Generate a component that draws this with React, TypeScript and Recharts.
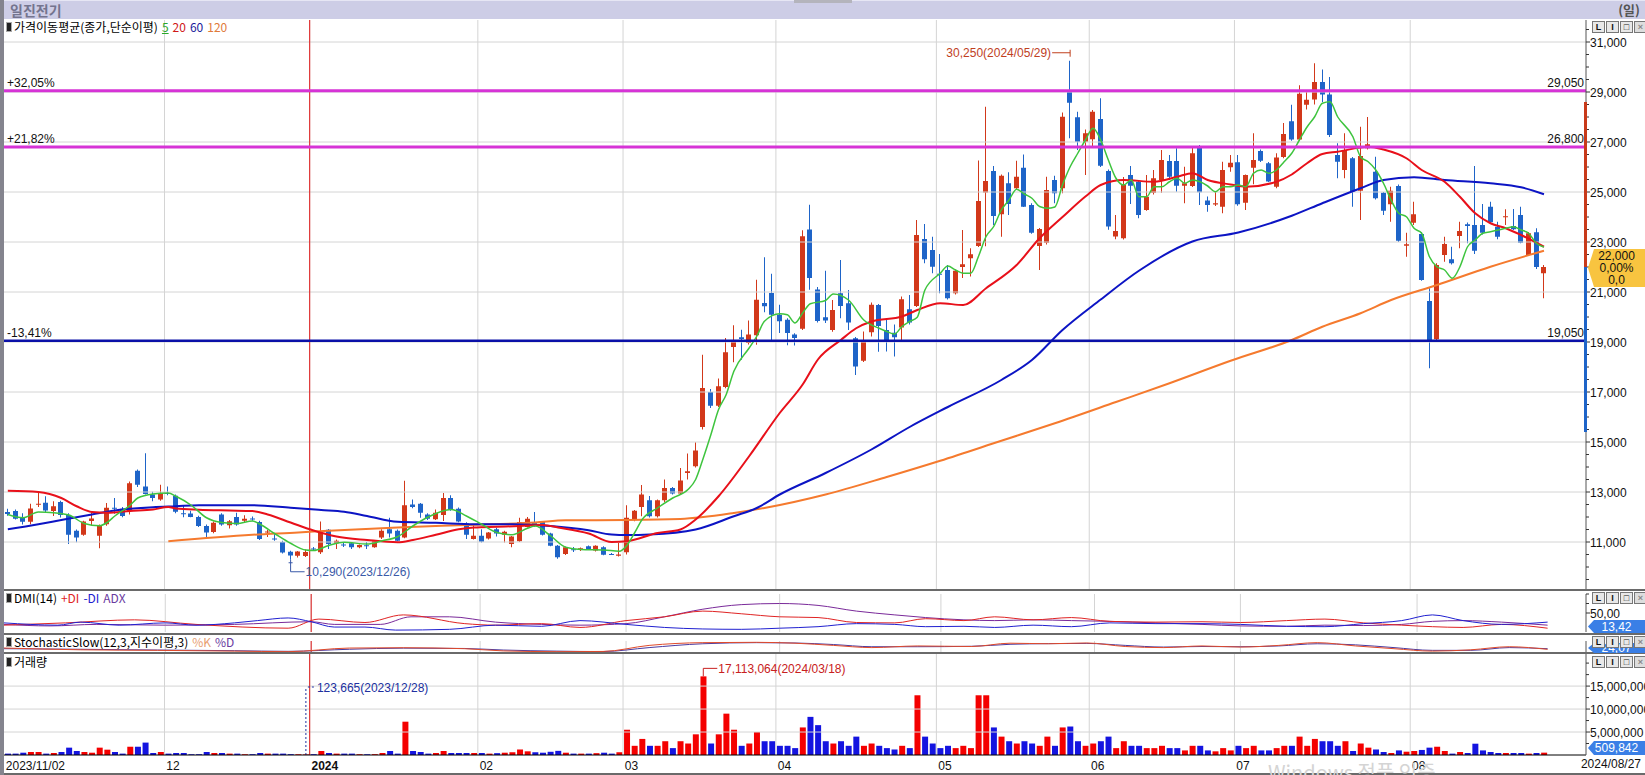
import React from 'react';
import {
  ComposedChart,
  Bar,
  Line,
  XAxis,
  YAxis,
  ReferenceLine,
  ReferenceDot,
  Cell,
} from 'recharts';

// trading days per month
const monthDays: [string, number[]][] = [
  ['2023/11', [2, 3, 6, 7, 8, 9, 10, 13, 14, 15, 16, 17, 20, 21, 22, 23, 24, 27, 28, 29, 30]],
  ['2023/12', [1, 4, 5, 6, 7, 8, 11, 12, 13, 14, 15, 18, 19, 20, 21, 22, 26, 27, 28]],
  ['2024/01', [2, 3, 4, 5, 8, 9, 10, 11, 12, 15, 16, 17, 18, 19, 22, 23, 24, 25, 26, 29, 30, 31]],
  ['2024/02', [1, 2, 5, 6, 7, 8, 13, 14, 15, 16, 19, 20, 21, 22, 23, 26, 27, 28, 29]],
  ['2024/03', [4, 5, 6, 7, 8, 11, 12, 13, 14, 15, 18, 19, 20, 21, 22, 25, 26, 27, 28, 29]],
  ['2024/04', [1, 2, 3, 4, 5, 8, 9, 11, 12, 15, 16, 17, 18, 19, 22, 23, 24, 25, 26, 29, 30]],
  ['2024/05', [2, 3, 7, 8, 9, 10, 13, 14, 16, 17, 20, 21, 22, 23, 24, 27, 28, 29, 30, 31]],
  ['2024/06', [3, 4, 5, 7, 10, 11, 12, 13, 14, 17, 18, 19, 20, 21, 24, 25, 26, 27, 28]],
  ['2024/07', [1, 2, 3, 4, 5, 8, 9, 10, 11, 12, 15, 16, 17, 18, 19, 22, 23, 24, 25, 26, 29, 30, 31]],
  ['2024/08', [1, 2, 5, 6, 7, 8, 9, 12, 13, 14, 16, 19, 20, 21, 22, 23, 26, 27]],
];

// [open, high, low, close]
const nov23 = [
  [12200, 12330, 12050, 12120], [12240, 12300, 11900, 11930], [11970, 12150, 11700, 11810],
  [11810, 12530, 11710, 12340], [12500, 12960, 12400, 12530], [12570, 12830, 12170, 12260],
  [12240, 12630, 12040, 12430], [12600, 12650, 11980, 12080], [12080, 12150, 10920, 11290],
  [11450, 11500, 10990, 11180], [11290, 11850, 11250, 11820], [11840, 12170, 11660, 11940],
  [11250, 11700, 10750, 11650], [11710, 12560, 11650, 12370], [12370, 12760, 12130, 12340],
  [12330, 12400, 11990, 12040], [12240, 13420, 12100, 13350], [13850, 13900, 13200, 13290],
  [13220, 14550, 12900, 12920], [12900, 13010, 12630, 12760], [12700, 13290, 12650, 12960],
];
const dec23 = [
  [12960, 13220, 12870, 12940], [12850, 12900, 12150, 12210], [12150, 12480, 11990, 12130],
  [12140, 12250, 11990, 12000], [12000, 12050, 11600, 11640], [11640, 11700, 11180, 11380],
  [11400, 11820, 11350, 11770], [12100, 12150, 11650, 11700], [11670, 11880, 11540, 11830],
  [12000, 12170, 11650, 11700], [11850, 12070, 11760, 11930], [11940, 12020, 11850, 11900],
  [11800, 11850, 11080, 11120], [11380, 11480, 11200, 11420], [11140, 11350, 11050, 11100],
  [11000, 11050, 10540, 10580], [10610, 10650, 10290, 10460], [10450, 10640, 10380, 10620],
  [10440, 10700, 10400, 10600],
];
const jan24 = [
  [10740, 10800, 10650, 10720], [10590, 11820, 10520, 11380], [11490, 11520, 10720, 10920],
  [10950, 11100, 10720, 11050], [10900, 11000, 10800, 10880], [10950, 11000, 10720, 10790],
  [10790, 10900, 10750, 10880], [10870, 11000, 10720, 10850], [10790, 11080, 10770, 11050],
  [11180, 11510, 11120, 11450], [11510, 11970, 11180, 11340], [11450, 11500, 11030, 11050],
  [11180, 13450, 11150, 12470], [12500, 12700, 12350, 12400], [12530, 12560, 11970, 12170],
  [12100, 12150, 11880, 11930], [11910, 12300, 11880, 12170], [12080, 12960, 11840, 12760],
  [12760, 12870, 12250, 12300], [12330, 12380, 11790, 11820], [11740, 11790, 11120, 11290],
  [11120, 11710, 11100, 11250],
];
const feb24 = [
  [11250, 11510, 10980, 11010], [11140, 11400, 11100, 11380], [11510, 11570, 11220, 11340],
  [11290, 11450, 10980, 11410], [10920, 11240, 10790, 11220], [11030, 11970, 11000, 11800],
  [11600, 12000, 11580, 11930], [11770, 12200, 11600, 11640], [11800, 11840, 11260, 11290],
  [11340, 11370, 10830, 10850], [10850, 10880, 10330, 10390], [10520, 10820, 10480, 10790],
  [10710, 10800, 10600, 10700], [10690, 10780, 10640, 10750], [10830, 10860, 10700, 10720],
  [10660, 10870, 10620, 10850], [10790, 10830, 10470, 10490], [10520, 10560, 10480, 10510],
  [10450, 10960, 10420, 10500],
];
const mar24 = [
  [10590, 12470, 10500, 11970], [11900, 12280, 11830, 12250], [12400, 13280, 12030, 12900],
  [12670, 12840, 11980, 12030], [12030, 12700, 11980, 12670], [12670, 13500, 12600, 13160],
  [13160, 13200, 12900, 12940], [12940, 13960, 12900, 13460], [13760, 14540, 13500, 13830],
  [14030, 14990, 13980, 14660], [15600, 18490, 15500, 17160], [17000, 17120, 16360, 16450],
  [16450, 17540, 16400, 17230], [17200, 19160, 17150, 18590], [18800, 19670, 18190, 19070],
  [19190, 19490, 18290, 19120], [18960, 19860, 18900, 19300], [19270, 21490, 18890, 20690],
  [20560, 22390, 20190, 20430], [20960, 21730, 19030, 20090],
];
const apr24 = [
  [20090, 20490, 19360, 19830], [19890, 19950, 18870, 19360], [19300, 19350, 18860, 19160],
  [19530, 23470, 19480, 23230], [23500, 24490, 21090, 21560], [21100, 21200, 19780, 19840],
  [19990, 21850, 19760, 19860], [19480, 20680, 19410, 20280], [20950, 22280, 19950, 20440],
  [20550, 21080, 19480, 19780], [19150, 19200, 17680, 18020], [18250, 19420, 18200, 19020],
  [19390, 20580, 19220, 20490], [20480, 20520, 18610, 19640], [19480, 19880, 18620, 19020],
  [19370, 19700, 18420, 19190], [19580, 20820, 19080, 20710], [20310, 20880, 19700, 19780],
  [20440, 23880, 20400, 23280], [23120, 23720, 22150, 22310], [22680, 23210, 21750, 22010],
];
const may24 = [
  [21730, 22520, 20950, 21700], [21880, 22080, 20700, 20750], [20950, 21900, 20900, 21850],
  [22000, 23480, 21560, 22110], [22350, 22750, 21620, 22510], [22840, 26260, 22800, 24640],
  [24980, 28410, 22830, 25440], [25840, 26040, 23680, 24040], [24110, 25700, 23210, 25650],
  [25350, 25790, 24080, 24520], [25150, 26250, 25100, 25610], [25970, 26500, 24400, 24410],
  [24480, 24550, 23330, 23370], [22840, 23560, 21880, 23520], [22970, 25610, 22900, 25080],
  [25480, 25650, 24550, 24950], [25150, 28180, 24950, 28010], [29080, 30250, 27150, 28570],
  [27990, 28210, 26680, 27010], [27010, 27500, 25680, 27350],
];
const jun24 = [
  [27110, 28280, 26810, 28210], [27920, 28750, 26000, 26050], [25840, 25900, 23490, 23620],
  [23220, 24080, 23110, 23440], [23150, 25600, 23100, 25280], [25680, 26040, 24520, 25250],
  [25410, 25450, 23950, 24080], [24280, 25680, 24250, 24810], [24970, 25880, 24900, 25550],
  [25480, 26680, 24970, 26280], [26240, 26480, 25480, 25610], [26240, 26750, 25010, 25250],
  [25250, 26010, 24550, 25350], [25240, 26810, 25200, 26550], [26810, 26880, 24480, 24990],
  [24660, 24820, 24210, 24480], [24500, 25020, 24440, 24550], [24410, 26210, 24150, 25880],
  [25990, 26480, 25810, 26170],
];
const jul24 = [
  [26190, 26480, 24450, 24510], [24570, 25700, 24280, 25680], [25970, 27350, 25310, 26280],
  [26640, 26700, 26200, 26250], [26150, 26200, 25400, 25420], [25210, 26550, 25150, 26380],
  [26400, 27760, 26350, 27320], [27830, 28490, 27050, 27100], [27100, 29270, 27050, 28930],
  [28490, 29080, 28300, 28690], [28700, 30150, 28500, 29400], [29400, 29900, 28600, 28900],
  [28900, 29600, 27200, 27280], [26480, 26950, 25550, 26210], [25880, 27350, 25550, 26680],
  [26350, 26400, 24410, 25010], [25050, 27610, 23880, 26440], [26750, 28000, 26700, 26910],
  [25810, 26410, 24700, 24750], [24970, 25000, 24080, 24250], [24510, 25210, 23810, 25050],
  [25240, 25300, 23000, 23050], [22850, 23370, 22410, 22910],
];
const aug24 = [
  [23770, 24610, 23680, 24110], [23320, 23400, 21450, 21480], [20640, 21150, 17950, 19080],
  [19110, 22150, 19050, 22080], [22480, 23210, 22210, 22920], [22310, 22810, 22100, 22150],
  [23240, 23810, 22750, 23440], [23710, 23780, 22950, 23640], [23680, 26040, 22520, 22650],
  [23680, 24520, 23300, 23370], [24410, 24610, 23750, 23790], [23610, 23810, 23110, 23210],
  [23990, 24310, 23680, 24030], [23640, 24320, 23480, 23510], [24080, 24410, 22950, 22970],
  [22480, 23400, 22450, 23350], [23390, 23550, 21920, 22000], [21750, 22080, 20750, 22000],
];

// volume (shares)
const nov23Vol = [300000, 300000, 500000, 650000, 650000, 300000, 430000, 650000, 1600000, 870000, 650000, 500000, 1600000, 1160000, 650000, 300000, 1800000, 1800000, 2700000, 430000, 650000];
const dec23Vol = [300000, 430000, 430000, 160000, 170000, 650000, 430000, 430000, 300000, 300000, 160000, 170000, 430000, 300000, 300000, 300000, 180000, 160000, 123665];
const jan24Vol = [170000, 870000, 430000, 300000, 300000, 300000, 170000, 160000, 180000, 430000, 870000, 300000, 7250000, 870000, 650000, 300000, 430000, 870000, 430000, 430000, 430000, 430000];
const feb24Vol = [430000, 300000, 400000, 500000, 600000, 1200000, 800000, 600000, 500000, 700000, 900000, 500000, 300000, 300000, 300000, 400000, 500000, 300000, 600000];
const mar24Vol = [5500000, 2000000, 3500000, 2000000, 2000000, 3000000, 1500000, 3000000, 2500000, 4500000, 17113064, 2500000, 4500000, 9000000, 5500000, 2000000, 2500000, 5000000, 3000000, 3000000];
const apr24Vol = [2000000, 2000000, 1500000, 6000000, 8300000, 6500000, 3000000, 2500000, 3000000, 2000000, 4000000, 2000000, 2500000, 2000000, 1500000, 1200000, 2000000, 1500000, 13000000, 4000000, 2500000];
const may24Vol = [1500000, 2000000, 1500000, 2000000, 1500000, 13000000, 13000000, 6000000, 4000000, 3000000, 2500000, 3000000, 2500000, 2000000, 4000000, 2000000, 6000000, 6200000, 3000000, 2000000];
const jun24Vol = [2500000, 3000000, 4000000, 1500000, 3000000, 2000000, 2000000, 1500000, 1500000, 2000000, 1500000, 1500000, 1000000, 2000000, 2000000, 1000000, 800000, 1500000, 1000000];
const jul24Vol = [2000000, 1500000, 2000000, 1000000, 1000000, 1500000, 2000000, 2000000, 4000000, 2000000, 3500000, 3000000, 3000000, 2000000, 3000000, 870000, 2500000, 1600000, 1200000, 650000, 430000, 1000000, 720000];
const aug24Vol = [870000, 1100000, 1600000, 1800000, 870000, 300000, 650000, 430000, 2460000, 1000000, 650000, 430000, 430000, 430000, 430000, 300000, 430000, 509842];

// moving averages: [day index, value]
const ma5Pts = [
  [0, 12100], [2, 11970], [4, 12200], [6, 12170], [8, 12080], [10, 11740], [12, 11650], [13, 11780], [14, 12040],
  [16, 12470], [17, 12760], [19, 12920], [21, 12960], [22, 12830], [24, 12470], [26, 11970], [28, 11780], [30, 11740],
  [32, 11840], [33, 11710], [35, 11320], [37, 10950], [39, 10680], [40, 10660], [42, 10860], [44, 10990], [47, 10920],
  [49, 11050], [51, 11210], [53, 11640], [55, 12000], [58, 12300], [60, 12040], [62, 11710], [64, 11380], [66, 11290],
  [68, 11550], [69, 11640], [71, 11250], [73, 10790], [75, 10700], [78, 10680], [80, 10630], [81, 10860], [82, 11360],
  [83, 11900], [85, 12360], [87, 12760], [89, 13100], [90, 13500], [91, 14360], [92, 15300], [93, 16300], [94, 16900],
  [95, 17830], [97, 18760], [98, 19230], [99, 19830], [101, 20130], [102, 20090], [103, 19760], [104, 20160],
  [105, 20530], [107, 20660], [108, 20920], [110, 20680], [112, 19880], [114, 19550], [115, 19420], [116, 19320],
  [117, 19620], [118, 19820], [119, 19990], [120, 21080], [122, 21750], [123, 22040], [124, 21880], [125, 21750],
  [126, 21750], [127, 22420], [128, 23220], [129, 23620], [130, 24280], [131, 24680], [132, 25110], [133, 24920],
  [134, 24750], [135, 24420], [136, 24350], [137, 24400], [138, 25280], [139, 26010], [140, 26550], [141, 27080],
  [142, 27550], [143, 27080], [144, 26280], [145, 25550], [146, 25280], [147, 25480], [148, 24810], [149, 24810],
  [150, 25210], [151, 25210], [152, 25410], [153, 25550], [154, 25350], [155, 25480], [156, 25410], [157, 25240],
  [158, 25010], [159, 25210], [160, 25210], [161, 25280], [162, 25210], [163, 25750], [164, 25880], [165, 25750],
  [166, 25880], [167, 26210], [168, 26550], [169, 27080], [170, 27600], [171, 28010], [172, 28550], [173, 28610],
  [174, 28010], [176, 27210], [177, 26410], [178, 26210], [179, 25880], [180, 25350], [181, 24680], [182, 24150],
  [183, 24010], [184, 23550], [185, 23350], [186, 22420], [187, 22010], [188, 21880], [189, 21550], [190, 22010],
  [191, 22810], [192, 23080], [193, 23350], [194, 23410], [195, 23480], [196, 23550], [197, 23610], [198, 23480],
  [199, 23350], [200, 22950], [201, 22800],
];
const ma20Pts = [
  [0, 13050], [4, 13000], [7, 12760], [9, 12430], [11, 12200], [13, 12170], [16, 12240], [19, 12300], [21, 12400],
  [22, 12340], [25, 12290], [29, 12260], [32, 12240], [34, 12100], [37, 11780], [40, 11460], [43, 11220], [47, 11080],
  [51, 10990], [53, 11080], [56, 11290], [59, 11510], [61, 11580], [64, 11610], [67, 11640], [70, 11680], [72, 11580],
  [76, 11340], [79, 11000], [81, 11030], [85, 11360], [88, 11500], [90, 11900], [93, 12830], [97, 14430], [101, 16160],
  [104, 17300], [106, 18300], [109, 19080], [111, 19550], [113, 19820], [117, 20020], [119, 20280], [122, 20550],
  [125, 20480], [128, 21150], [132, 22080], [135, 23150], [138, 24000], [141, 24820], [143, 25280], [146, 25480],
  [150, 25410], [153, 25610], [155, 25750], [157, 25480], [160, 25300], [162, 25210], [166, 25410], [168, 25700],
  [170, 26150], [172, 26520], [174, 26610], [178, 26810], [180, 26700], [183, 26350], [185, 25880], [188, 25410],
  [190, 24810], [192, 24150], [194, 23750], [196, 23550], [198, 23280], [201, 22810],
];
const ma60Pts = [
  [0, 11510], [4, 11710], [7, 11880], [11, 12100], [15, 12300], [19, 12390], [22, 12430], [25, 12470], [32, 12470],
  [37, 12370], [41, 12280], [44, 12210], [47, 12040], [51, 11810], [56, 11770], [61, 11710], [66, 11710], [71, 11640],
  [76, 11470], [79, 11300], [81, 11280], [84, 11300], [90, 11500], [95, 12030], [98, 12360], [101, 12900],
  [107, 13760], [113, 14700], [118, 15600], [123, 16400], [130, 17480], [134, 18280], [138, 19480], [143, 20700],
  [148, 21850], [155, 23020], [161, 23380], [168, 24050], [172, 24550], [177, 25150], [180, 25480], [184, 25590],
  [188, 25480], [194, 25350], [198, 25190], [201, 24910],
];
const ma120Pts = [
  [21, 11030], [32, 11290], [38, 11380], [42, 11450], [51, 11580], [60, 11680], [69, 11780], [73, 11870], [81, 11880],
  [88, 11920], [95, 12160], [99, 12360], [107, 12900], [115, 13600], [122, 14250], [130, 15050], [137, 15750],
  [145, 16600], [152, 17350], [160, 18250], [168, 19080], [172, 19610], [177, 20150], [181, 20680], [187, 21280],
  [194, 22010], [201, 22650],
];

// DMI(14)
const pdiPts = [
  [0, 18], [8, 24], [17, 32], [25, 20], [37, 10], [41, 34], [47, 25], [52, 45], [60, 22], [64, 18], [70, 22], [75, 12],
  [81, 30], [86, 40], [91, 55], [96, 48], [101, 40], [106, 38], [111, 25], [116, 24], [120, 35], [125, 30], [129, 40],
  [134, 32], [139, 38], [144, 28], [150, 26], [156, 27], [161, 25], [167, 30], [172, 34], [177, 24], [182, 18],
  [186, 14], [190, 12], [195, 20], [201, 10],
];
const mdiPts = [
  [0, 24], [7, 18], [10, 26], [15, 18], [21, 24], [25, 18], [30, 24], [33, 30], [37, 37], [40, 27], [43, 13], [47, 13],
  [51, 5], [58, 7], [64, 18], [70, 15], [75, 30], [81, 20], [86, 12], [91, 8], [96, 7], [101, 10], [106, 14], [111, 22],
  [116, 20], [120, 14], [125, 15], [129, 12], [134, 18], [139, 14], [144, 24], [150, 22], [156, 22], [161, 20],
  [167, 15], [172, 14], [177, 22], [182, 30], [186, 45], [190, 30], [195, 20], [201, 26],
];
const adxPts = [
  [0, 20], [6, 16], [12, 20], [21, 18], [30, 20], [40, 27], [43, 20], [49, 20], [53, 40], [58, 40], [64, 26], [70, 20],
  [75, 18], [81, 22], [86, 40], [91, 60], [96, 72], [101, 75], [106, 70], [111, 55], [116, 45], [120, 38], [125, 32],
  [129, 30], [134, 32], [139, 30], [144, 28], [150, 24], [156, 20], [161, 16], [167, 15], [172, 18], [177, 17],
  [182, 20], [186, 28], [190, 30], [195, 26], [201, 18],
];

// StochasticSlow(12,3,3)
const stochKPts = [
  [0, 36], [10, 20], [20, 15], [30, 8], [37, 3], [45, 36], [52, 39], [60, 30], [65, 10], [72, 3], [78, 5], [84, 60],
  [91, 85], [98, 88], [103, 80], [108, 60], [113, 40], [119, 55], [126, 50], [131, 80], [136, 75], [141, 82],
  [146, 50], [151, 40], [156, 55], [161, 45], [166, 60], [171, 85], [176, 55], [181, 30], [186, 8], [191, 20],
  [196, 48], [201, 24],
];
const stochDPts = [
  [0, 30], [10, 25], [20, 18], [30, 12], [37, 6], [45, 25], [52, 35], [60, 32], [65, 18], [72, 8], [78, 4], [84, 40],
  [91, 75], [98, 85], [103, 82], [108, 68], [113, 48], [119, 48], [126, 52], [131, 70], [136, 76], [141, 78],
  [146, 60], [151, 45], [156, 50], [161, 48], [166, 55], [171, 75], [176, 65], [181, 40], [186, 15], [191, 15],
  [196, 40], [201, 30],
];

const dates: string[] = [];
monthDays.forEach(([m, ds]) => ds.forEach((d) => dates.push(`${m}/${String(d).padStart(2, '0')}`)));
const candles = [...nov23, ...dec23, ...jan24, ...feb24, ...mar24, ...apr24, ...may24, ...jun24, ...jul24, ...aug24];
const volumes = [...nov23Vol, ...dec23Vol, ...jan24Vol, ...feb24Vol, ...mar24Vol, ...apr24Vol, ...may24Vol, ...jun24Vol, ...jul24Vol, ...aug24Vol];
const N = dates.length;
const PAD = 5;

const toSeries = (pts: number[][]) => {
  const a: (number | null)[] = new Array(N).fill(null);
  pts.forEach(([i, v]) => (a[i] = v));
  return a;
};
const ma5 = toSeries(ma5Pts);
const ma20 = toSeries(ma20Pts);
const ma60 = toSeries(ma60Pts);
const ma120 = toSeries(ma120Pts);
const pdi = toSeries(pdiPts);
const mdi = toSeries(mdiPts);
const adx = toSeries(adxPts);
const stK = toSeries(stochKPts);
const stD = toSeries(stochDPts);

const rows: any[] = Array.from({ length: N + PAD }, (_, i) => {
  if (i >= N) return { d: `pad${i}` };
  const [o, h, l, c] = candles[i];
  return {
    d: dates[i], o, h, l, c, range: [l, h], up: c >= o, vol: volumes[i],
    ma5: ma5[i], ma20: ma20[i], ma60: ma60[i], ma120: ma120[i],
    pdi: pdi[i], mdi: mdi[i], adx: adx[i], k: stK[i], dd: stD[i],
  };
});

const monthStarts = monthDays.slice(1).map(([m]) => dates.find((d) => d.startsWith(m)) as string);
const xTicks = [dates[0], ...monthStarts];
const jan2 = dates.find((d) => d.startsWith('2024/01')) as string;

const FONT = "'Liberation Sans', 'Noto Sans CJK KR', sans-serif";
const KFONT = "'Noto Sans CJK KR', 'Liberation Sans', sans-serif";
const RED = '#d2381a';
const BLUE = '#1e64c8';
const GRID = '#d4d4d4';
const W = 1645;
const MARGIN = { top: 0, right: 0, bottom: 0, left: 4 };

const Candle = (props: any) => {
  const { x, y, width, height, payload } = props;
  if (!payload || payload.o == null) return null;
  const { o, h, l, c } = payload;
  const color = c >= o ? RED : BLUE;
  const top = Math.min(y, y + height);
  const hgt = Math.abs(height);
  const span = h - l || 1;
  const py = (v: number) => top + ((h - v) / span) * hgt;
  const bt = py(Math.max(o, c));
  const bb = py(Math.min(o, c));
  const cx = Math.floor(x + width / 2) + 0.5;
  return (
    <g>
      <line x1={cx} x2={cx} y1={top} y2={top + hgt} stroke={color} strokeWidth={1} />
      <rect x={cx - 2.5} y={bt} width={5} height={Math.max(1, bb - bt)} fill={color} />
    </g>
  );
};

const AxisTick = (props: any) => {
  const { x, y, payload, isMajor, fmt } = props;
  const v = payload.value;
  const major = isMajor(v);
  return (
    <g>
      <line x1={x} x2={x + (major ? 4 : 3)} y1={y} y2={y} stroke="#333" />
      {major && (
        <text x={x + 4} y={y + 4.5} fontSize={12} fill="#111" fontFamily={FONT}>
          {fmt(v)}
        </text>
      )}
    </g>
  );
};

const XTick = (props: any) => {
  const { x, y, payload } = props;
  const v: string = payload.value;
  let label = v.slice(5, 7);
  let bold = false;
  if (v === dates[0]) label = v;
  else if (label === '01') {
    label = v.slice(0, 4);
    bold = true;
  }
  return (
    <text x={x - 2} y={y + 13} fontSize={12} fill="#111" fontWeight={bold ? 700 : 400} fontFamily={FONT}>
      {label}
    </text>
  );
};

const HLineLabel = (props: any) => {
  const { viewBox, left, right } = props;
  if (!viewBox) return null;
  const { x, y, width } = viewBox;
  return (
    <g fontFamily={FONT} fontSize={12} fill="#111">
      <text x={x + 3} y={y - 4}>{left}</text>
      <text x={x + width - 2} y={y - 4} textAnchor="end">{right}</text>
    </g>
  );
};

const monthGrid = () =>
  monthStarts.map((d) => <ReferenceLine key={d} x={d} stroke={GRID} position="start" />);

const PanelTag = ({ top, children }: { top: number; children: React.ReactNode }) => (
  <div style={{ position: 'absolute', left: 6, top, height: 14, display: 'flex', alignItems: 'center', fontSize: 12, fontFamily: KFONT, whiteSpace: 'nowrap', lineHeight: '14px' }}>
    <span style={{ display: 'inline-block', width: 4, height: 8, background: '#222', border: '1px solid #aaa', marginRight: 2 }} />
    {children}
  </div>
);

const Buttons = ({ top }: { top: number }) => (
  <div style={{ position: 'absolute', left: 1592, top, display: 'flex' }}>
    {['L', 'I', '□', '×'].map((t, i) => (
      <div key={i} style={{ width: 11, height: 10, border: '1px solid #777', background: i === 3 ? '#ddd' : '#e8e8e8', color: i === 3 ? '#888' : '#111', fontSize: 9, lineHeight: '10px', textAlign: 'center', fontFamily: FONT, fontWeight: 700, marginRight: 1 }}>
        {t}
      </div>
    ))}
  </div>
);

const ValueBox = ({ top, height, bg, color, lines }: any) => (
  <div style={{ position: 'absolute', left: 1588, top, width: 57, height, background: bg, color, fontSize: 12, fontFamily: FONT, lineHeight: '12px', textAlign: 'center', display: 'flex', flexDirection: 'column', justifyContent: 'center', clipPath: 'polygon(6px 0, 100% 0, 100% 100%, 6px 100%, 0 50%)' }}>
    {lines.map((t: string) => (
      <div key={t}>{t}</div>
    ))}
  </div>
);

// price -> pixel for axis decorations (main panel: top 20, height 570, domain 9080..31880)
const yPrice = (p: number) => 20 + ((31880 - p) / 22800) * 570;

const priceTicks = Array.from({ length: 45 }, (_, i) => 9500 + i * 500);
const volTicks = [2500000, 5000000, 7500000, 10000000, 12500000, 15000000, 17500000, 20000000];

export default function App() {
  return (
    <div style={{ position: 'absolute', left: 0, top: 0, width: W, height: 775, background: '#fff', overflow: 'hidden', fontFamily: FONT }}>
      {/* title bar */}
      <div style={{ position: 'absolute', left: 4, top: 0, width: W - 4, height: 19, background: '#cdcde6', borderTop: '1px solid #e6e6f4', boxSizing: 'border-box' }}>
        <span style={{ position: 'absolute', left: 6, top: 0, fontSize: 14, fontWeight: 700, color: '#74748e', fontFamily: KFONT, lineHeight: '18px' }}>일진전기</span>
        <span style={{ position: 'absolute', right: 5, top: 0, fontSize: 13, fontWeight: 700, color: '#555', fontFamily: KFONT, lineHeight: '18px' }}>(일)</span>
      </div>
      <div style={{ position: 'absolute', left: 794, top: 0, width: 58, height: 3, background: '#b4b4bc' }} />

      {/* main price panel */}
      <div style={{ position: 'absolute', left: 0, top: 20 }}>
        <ComposedChart width={W} height={570} data={rows} margin={MARGIN}>
          <XAxis dataKey="d" hide />
          <YAxis
            orientation="right"
            width={59}
            type="number"
            domain={[9080, 31880]}
            ticks={priceTicks}
            interval={0}
            allowDataOverflow
            tickLine={false}
            tickSize={0}
            tickMargin={0}
            axisLine={{ stroke: '#555' }}
            tick={<AxisTick isMajor={(v: number) => v % 2000 === 1000} fmt={(v: number) => v.toLocaleString('en-US')} />}
          />
          {priceTicks.filter((v) => v % 2000 === 1000).map((v) => (
            <ReferenceLine key={v} y={v} stroke={GRID} />
          ))}
          {monthGrid()}
          <ReferenceLine x={jan2} stroke="#e01818" position="start" />
          <Bar dataKey="range" barSize={5} isAnimationActive={false} shape={(p: any) => <Candle {...p} />} />
          <Line dataKey="ma120" type="monotone" stroke="#f57a2e" strokeWidth={2} dot={false} activeDot={false} connectNulls isAnimationActive={false} />
          <Line dataKey="ma60" type="monotone" stroke="#0c14c4" strokeWidth={2} dot={false} activeDot={false} connectNulls isAnimationActive={false} />
          <Line dataKey="ma20" type="monotone" stroke="#e8101a" strokeWidth={2} dot={false} activeDot={false} connectNulls isAnimationActive={false} />
          <Line dataKey="ma5" type="monotone" stroke="#3ec43e" strokeWidth={1.5} dot={false} activeDot={false} connectNulls isAnimationActive={false} />
          <ReferenceLine y={29050} stroke="#d633d6" strokeWidth={3} label={<HLineLabel left="+32,05%" right="29,050" />} />
          <ReferenceLine y={26800} stroke="#d633d6" strokeWidth={3} label={<HLineLabel left="+21,82%" right="26,800" />} />
          <ReferenceLine y={19050} stroke="#0a10a8" strokeWidth={2.5} label={<HLineLabel left="-13,41%" right="19,050" />} />
          <ReferenceDot
            x={dates[139]}
            y={30250}
            r={0}
            shape={(p: any) => (
              <g>
                <line x1={p.cx - 18} x2={p.cx} y1={p.cy - 8} y2={p.cy - 8} stroke="#c0401e" />
                <line x1={p.cx} x2={p.cx} y1={p.cy - 11} y2={p.cy - 4} stroke="#c0401e" />
                <text x={p.cx - 19} y={p.cy - 3.5} textAnchor="end" fontSize={12} fill="#c0401e" fontFamily={FONT}>30,250(2024/05/29)</text>
              </g>
            )}
          />
          <ReferenceDot
            x={dates[37]}
            y={10290}
            r={0}
            shape={(p: any) => (
              <g>
                <line x1={p.cx} x2={p.cx} y1={p.cy} y2={p.cy + 12} stroke="#3a5aa8" />
                <line x1={p.cx - 2} x2={p.cx + 2} y1={p.cy + 3} y2={p.cy + 3} stroke="#3a5aa8" />
                <line x1={p.cx} x2={p.cx + 14} y1={p.cy + 12} y2={p.cy + 12} stroke="#3a5aa8" />
                <text x={p.cx + 15} y={p.cy + 16.5} fontSize={12} fill="#3a5aa8" fontFamily={FONT}>10,290(2023/12/26)</text>
              </g>
            )}
          />
        </ComposedChart>
      </div>

      {/* DMI panel */}
      <div style={{ position: 'absolute', left: 0, top: 590 }}>
        <ComposedChart width={W} height={44} data={rows} margin={{ ...MARGIN, top: 4, bottom: 2 }}>
          <XAxis dataKey="d" hide />
          <YAxis
            orientation="right"
            width={59}
            type="number"
            domain={[0, 100]}
            ticks={[50, 75, 100]}
            interval={0}
            tickLine={false}
            tickSize={0}
            tickMargin={0}
            axisLine={{ stroke: '#555' }}
            tick={<AxisTick isMajor={(v: number) => v === 50} fmt={() => '50,00'} />}
          />
          {monthGrid()}
          <ReferenceLine x={jan2} stroke="#e01818" position="start" />
          <Line dataKey="adx" type="monotone" stroke="#7a2a9a" strokeWidth={1} dot={false} activeDot={false} connectNulls isAnimationActive={false} />
          <Line dataKey="pdi" type="monotone" stroke="#e02424" strokeWidth={1} dot={false} activeDot={false} connectNulls isAnimationActive={false} />
          <Line dataKey="mdi" type="monotone" stroke="#2020d0" strokeWidth={1} dot={false} activeDot={false} connectNulls isAnimationActive={false} />
        </ComposedChart>
      </div>

      {/* Stochastic panel */}
      <div style={{ position: 'absolute', left: 0, top: 634 }}>
        <ComposedChart width={W} height={19} data={rows} margin={{ ...MARGIN, top: 7, bottom: 1 }}>
          <XAxis dataKey="d" hide />
          <YAxis orientation="right" width={59} type="number" domain={[0, 100]} ticks={[]} tickLine={false} axisLine={{ stroke: '#555' }} />
          {monthGrid()}
          <ReferenceLine x={jan2} stroke="#e01818" position="start" />
          <Line dataKey="dd" type="monotone" stroke="#4a3aa0" strokeWidth={1} dot={false} activeDot={false} connectNulls isAnimationActive={false} />
          <Line dataKey="k" type="monotone" stroke="#e04a2a" strokeWidth={1} dot={false} activeDot={false} connectNulls isAnimationActive={false} />
        </ComposedChart>
      </div>

      {/* volume panel */}
      <div style={{ position: 'absolute', left: 0, top: 653 }}>
        <ComposedChart width={W} height={122} data={rows} margin={MARGIN}>
          <XAxis dataKey="d" ticks={xTicks} interval={0} height={20} tickLine={false} tickSize={0} axisLine={{ stroke: '#000' }} tick={<XTick />} />
          <YAxis
            orientation="right"
            width={59}
            type="number"
            domain={[0, 22200000]}
            ticks={volTicks}
            interval={0}
            tickLine={false}
            tickSize={0}
            tickMargin={0}
            axisLine={{ stroke: '#555' }}
            tick={<AxisTick isMajor={(v: number) => v % 5000000 === 0 && v <= 15000000} fmt={(v: number) => v.toLocaleString('en-US')} />}
          />
          {[5000000, 10000000, 15000000].map((v) => (
            <ReferenceLine key={v} y={v} stroke={GRID} />
          ))}
          {monthGrid()}
          <ReferenceLine x={jan2} stroke="#e01818" position="start" />
          <Bar dataKey="vol" barSize={6} isAnimationActive={false}>
            {rows.map((r, i) => (
              <Cell key={i} fill={r.up ? '#f40000' : '#1414e0'} />
            ))}
          </Bar>
          <ReferenceLine segment={[{ x: dates[39], y: 0 }, { x: dates[39], y: 14800000 }]} stroke="#2030a0" strokeDasharray="2 2" />
          <ReferenceDot
            x={dates[39]}
            y={14800000}
            r={0}
            shape={(p: any) => (
              <g>
                <line x1={p.cx + 2} x2={p.cx + 10} y1={p.cy} y2={p.cy} stroke="#2030a0" strokeDasharray="2 2" />
                <text x={p.cx + 11} y={p.cy + 4.5} fontSize={12} fill="#2030a0" fontFamily={FONT}>123,665(2023/12/28)</text>
              </g>
            )}
          />
          <ReferenceDot
            x={dates[91]}
            y={17113064}
            r={0}
            shape={(p: any) => (
              <g>
                <line x1={p.cx} x2={p.cx} y1={p.cy} y2={p.cy - 8} stroke="#c82020" />
                <line x1={p.cx} x2={p.cx + 14} y1={p.cy - 8} y2={p.cy - 8} stroke="#c82020" />
                <text x={p.cx + 15} y={p.cy - 3.5} fontSize={12} fill="#c82020" fontFamily={FONT}>17,113,064(2024/03/18)</text>
              </g>
            )}
          />
        </ComposedChart>
      </div>

      {/* panel borders */}
      {[589, 633, 652].map((t) => (
        <div key={t} style={{ position: 'absolute', left: 4, top: t, width: W - 4, height: 2, background: '#6a6a6a' }} />
      ))}
      <div style={{ position: 'absolute', left: 0, top: 0, width: 4, height: 775, background: '#84848e' }} />
      <div style={{ position: 'absolute', left: 4, top: 773, width: W - 4, height: 2, background: '#6a6a6a' }} />

      {/* panel captions */}
      <PanelTag top={20}>
        <span>가격이동평균(종가,단순이평)</span>
        <span style={{ color: '#2aa82a', textDecoration: 'underline', marginLeft: 4 }}>5</span>
        <span style={{ color: '#d01818', marginLeft: 4 }}>20</span>
        <span style={{ color: '#1a1a9a', marginLeft: 4 }}>60</span>
        <span style={{ color: '#e07a3a', marginLeft: 4 }}>120</span>
      </PanelTag>
      <PanelTag top={591}>
        <span>DMI(14)</span>
        <span style={{ color: '#e02424', marginLeft: 4 }}>+DI</span>
        <span style={{ color: '#2020d0', marginLeft: 4 }}>-DI</span>
        <span style={{ color: '#6a3aa0', marginLeft: 4 }}>ADX</span>
      </PanelTag>
      <PanelTag top={635}>
        <span>StochasticSlow(12,3,지수이평,3)</span>
        <span style={{ color: '#e8a070', marginLeft: 4 }}>%K</span>
        <span style={{ color: '#6a3aa0', marginLeft: 4 }}>%D</span>
      </PanelTag>
      <PanelTag top={655}>
        <span>거래량</span>
      </PanelTag>

      {/* right side decorations */}
      <div style={{ position: 'absolute', left: 1584, top: yPrice(28600), width: 3, height: yPrice(22000) - yPrice(28600), background: '#c83a1a' }} />
      <div style={{ position: 'absolute', left: 1584, top: yPrice(22000), width: 3, height: yPrice(15400) - yPrice(22000), background: '#1e64c8' }} />
      <ValueBox top={yPrice(22000) - 18} height={38} bg="#f8c440" color="#111" lines={['22,000', '0,00%', '0,0']} />
      <ValueBox top={620} height={13} bg="#3a7fe6" color="#fff" lines={['13,42']} />
      <ValueBox top={643} height={10} bg="#3a7fe6" color="#fff" lines={['24,07']} />
      <ValueBox top={741} height={14} bg="#3a7fe6" color="#fff" lines={['509,842']} />
      <Buttons top={21} />
      <Buttons top={592} />
      <Buttons top={636} />
      <Buttons top={656} />
      <div style={{ position: 'absolute', right: 4, top: 757, fontSize: 12, fontFamily: FONT, color: '#111' }}>2024/08/27</div>
      <div style={{ position: 'absolute', left: 1268, top: 757, fontSize: 20, fontFamily: KFONT, color: '#d4d4d4' }}>Windows 정품 인증</div>
    </div>
  );
}
